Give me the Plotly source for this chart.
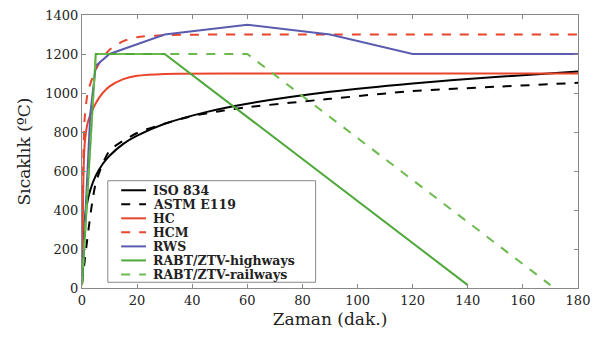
import plotly.graph_objects as go

iso_t = [0, 1, 2, 3, 5, 7.5, 10, 15, 20, 30, 45, 60, 90, 120, 150, 180]
iso_T = [20, 349, 445, 502, 576, 636, 678, 739, 781, 842, 902, 945, 1006, 1049, 1082, 1110]

astm_t = [0, 5, 10, 20, 30, 40, 50, 60, 90, 120, 150, 180]
astm_T = [20, 538, 704, 795, 843, 882, 907, 927, 970, 1010, 1032, 1052]

hc_t = [0, 0.5, 1, 2, 3, 5, 7.5, 10, 15, 20, 30, 60, 180]
hc_T = [20, 568, 743, 844, 887, 948, 1000, 1034, 1071, 1088, 1098, 1100, 1100]

hcm_t = [0, 0.5, 1, 2, 3, 5, 7.5, 10, 15, 20, 30, 60, 180]
hcm_T = [20, 670, 877, 996, 1047, 1120, 1181, 1222, 1266, 1286, 1297, 1300, 1300]

rws_t = [0, 3, 5, 10, 30, 60, 90, 120, 180]
rws_T = [20, 890, 1140, 1200, 1300, 1350, 1300, 1200, 1200]

rabt_h_t = [0, 5, 30, 140]
rabt_h_T = [15, 1200, 1200, 15]

rabt_r_t = [0, 5, 60, 170]
rabt_r_T = [15, 1200, 1200, 15]

x_ticks = list(range(0, 181, 20))
y_ticks = list(range(0, 1401, 200))

# name, t, T, colour, dash, smooth
series = [
    ("ISO 834", iso_t, iso_T, "#000000", "solid", True),
    ("ASTM E119", astm_t, astm_T, "#000000", "dash", True),
    ("HC", hc_t, hc_T, "#e8452c", "solid", True),
    ("HCM", hcm_t, hcm_T, "#e8452c", "dash", True),
    ("RWS", rws_t, rws_T, "#5b5bb0", "solid", False),
    ("RABT/ZTV-highways", rabt_h_t, rabt_h_T, "#4ea83a", "solid", False),
    ("RABT/ZTV-railways", rabt_r_t, rabt_r_T, "#6cba4e", "dash", False),
]

fig = go.Figure()
for name, t, T, c, d, smooth in series:
    line = dict(color=c, width=2, dash=d)
    if smooth:
        line.update(shape="spline", smoothing=0.6)
    fig.add_trace(go.Scatter(x=t, y=T, mode="lines", name=name, line=line, showlegend=False))

font_family = "DejaVu Serif"

# legend drawn as a boxed key in paper coordinates
box_x0, box_x1, box_y0, box_y1 = 0.052, 0.471, 0.021, 0.393
item_y0, item_step = 0.358, 0.0514
fig.add_shape(type="rect", xref="paper", yref="paper", x0=box_x0, x1=box_x1, y0=box_y0, y1=box_y1,
              fillcolor="white", line=dict(color="#888888", width=1), layer="above")
for i, (name, t, T, c, d, smooth) in enumerate(series):
    yy = item_y0 - i * item_step
    fig.add_shape(type="line", xref="paper", yref="paper", x0=0.079, x1=0.129, y0=yy, y1=yy,
                  line=dict(color=c, width=2, dash=d), layer="above")
    fig.add_annotation(xref="paper", yref="paper", x=0.140, y=yy, xanchor="left", yanchor="middle",
                       text="<b>%s</b>" % name, showarrow=False,
                       font=dict(family=font_family, size=12.5, color="#222222"))

axis_common = dict(
    showgrid=False, zeroline=False,
    showline=True, linecolor="#888888", linewidth=1, mirror="ticks",
    ticks="inside", ticklen=4, tickcolor="#888888",
    tickfont=dict(family=font_family, size=13, color="#222222"),
)

fig.update_layout(
    width=598, height=338,
    margin=dict(l=82, r=13, t=8, b=50),
    paper_bgcolor="white", plot_bgcolor="white",
    font=dict(family=font_family, color="#222222"),
    xaxis=dict(range=[0, 180], tickvals=x_ticks,
               title=dict(text="Zaman (dak.)", font=dict(family=font_family, size=17), standoff=6),
               **axis_common),
    yaxis=dict(range=[0, 1400], tickvals=y_ticks,
               title=dict(text="Sıcaklık (ºC)", font=dict(family=font_family, size=17), standoff=10),
               **axis_common),
    showlegend=False,
)

fig.write_html("out.html")
